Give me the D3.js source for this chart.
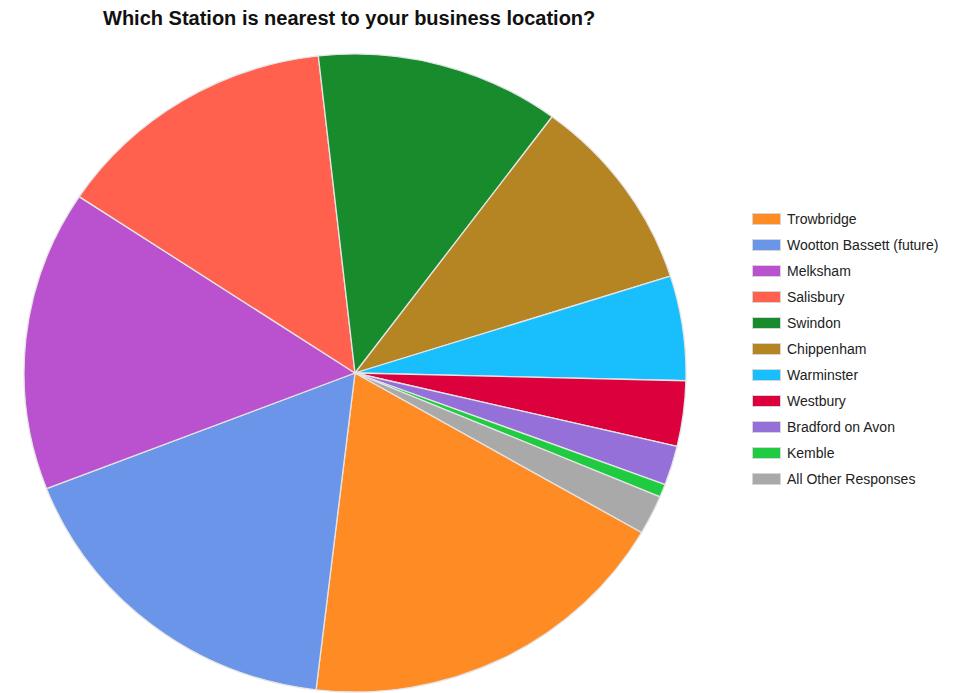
<!DOCTYPE html>
<html>
<head>
<meta charset="utf-8">
<script src="https://cdn.jsdelivr.net/npm/d3@7"></script>
<style>
  html, body { margin: 0; padding: 0; background: #ffffff; }
  svg { display: block; }
</style>
</head>
<body>
<svg id="chart" width="955" height="693"></svg>
<script>
// Survey responses: nearest station to each business
const stations = [
  "Trowbridge", "Wootton Bassett (future)", "Melksham", "Salisbury", "Swindon",
  "Chippenham", "Warminster", "Westbury", "Bradford on Avon", "Kemble",
  "All Other Responses"
];
const responses = [28, 26, 23, 21, 18, 15, 8, 5, 3, 1, 3];
const sliceColors = [
  "#FF8B24", "#6A95E8", "#BA52D0", "#FF614E", "#188B2D",
  "#B58523", "#19BFFC", "#DC003C", "#9570D8", "#1FCC41", "#A9A9A9"
];
const chartTitle = "Which Station is nearest to your business location?";

const svg = d3.select("#chart");
const W = 955, H = 693;

// Title
svg.append("text")
  .attr("x", 103)
  .attr("y", 25)
  .attr("font-family", "'Liberation Sans', Arial, sans-serif")
  .attr("font-weight", "bold")
  .attr("font-size", 20)
  .attr("fill", "#111")
  .text(chartTitle);

// Pie (drawn slightly wider than tall)
const cx = 355, cy = 373, rx = 331, ry = 319;
const rows = stations.map((name, i) => ({ name, value: responses[i], color: sliceColors[i] }));

const pie = d3.pie()
  .sort(null)
  .value(d => d.value)
  .startAngle(2 * Math.PI / 3)
  .endAngle(2 * Math.PI / 3 + 2 * Math.PI);

const arc = d3.arc().innerRadius(0).outerRadius(ry);

const g = svg.append("g")
  .attr("transform", `translate(${cx},${cy}) scale(${rx / ry},1)`);

g.selectAll("path")
  .data(pie(rows))
  .join("path")
  .attr("d", arc)
  .attr("fill", d => d.data.color)
  .attr("stroke", "#e4e4e4")
  .attr("stroke-width", 1.3)
  .attr("stroke-linejoin", "round")
  .attr("vector-effect", "non-scaling-stroke");

// Legend
const legendX = 752, legendY = 224, rowH = 26;
const legend = svg.append("g")
  .attr("font-family", "'Liberation Sans', Arial, sans-serif")
  .attr("font-size", 14);

const item = legend.selectAll("g")
  .data(rows)
  .join("g")
  .attr("transform", (d, i) => `translate(${legendX},${legendY + i * rowH})`);

item.append("rect")
  .attr("x", 0.5)
  .attr("y", -10.5)
  .attr("width", 28)
  .attr("height", 11)
  .attr("fill", d => d.color)
  .attr("stroke", "#d6d6d6")
  .attr("stroke-width", 1);

item.append("text")
  .attr("x", 35)
  .attr("y", 0)
  .attr("fill", "#222")
  .text(d => d.name);
</script>
</body>
</html>
